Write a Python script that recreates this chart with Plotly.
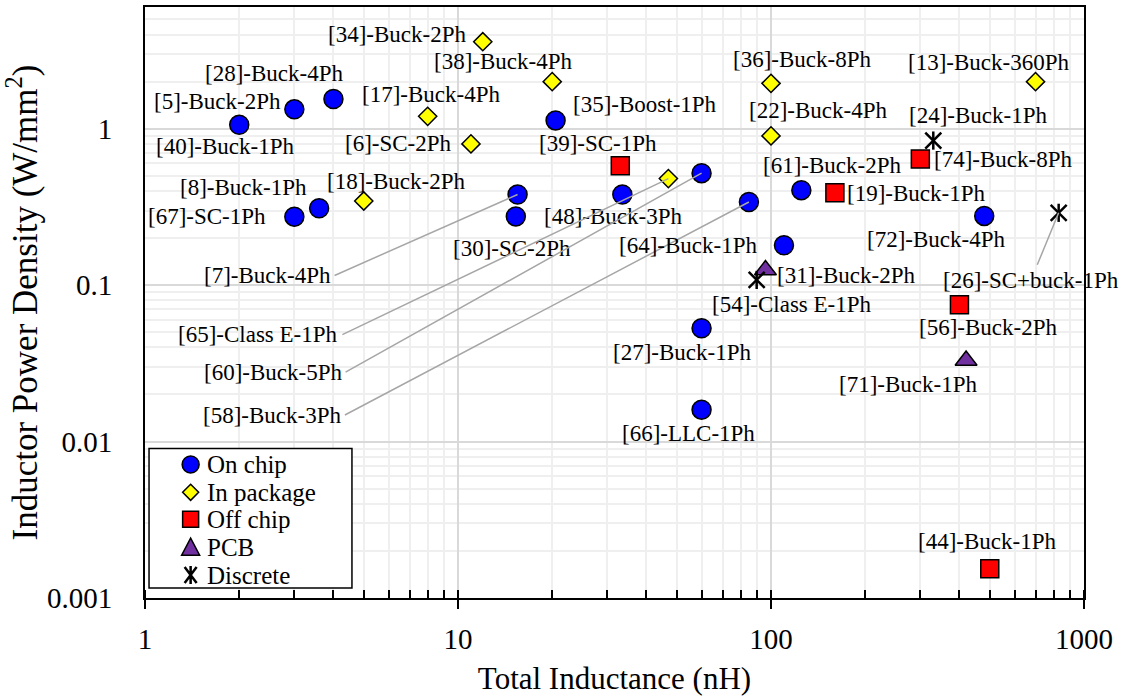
import math
import plotly.graph_objects as go

# ---------------- data: total inductance (nH) vs inductor power density (W/mm^2)
on_chip_labels = ["[40]-Buck-1Ph", "[5]-Buck-2Ph", "[28]-Buck-4Ph", "[35]-Boost-1Ph",
                  "[8]-Buck-1Ph", "[67]-SC-1Ph", "[7]-Buck-4Ph", "[30]-SC-2Ph",
                  "[48]-Buck-3Ph", "[60]-Buck-5Ph", "[58]-Buck-3Ph", "[61]-Buck-2Ph",
                  "[64]-Buck-1Ph", "[27]-Buck-1Ph", "[66]-LLC-1Ph", "[72]-Buck-4Ph"]
on_chip_L = [2, 3, 4, 20.5, 3.6, 3, 15.5, 15.3, 33.5, 60, 85, 125, 110, 60, 60, 480]
on_chip_pd = [1.06, 1.33, 1.55, 1.13, 0.31, 0.274, 0.38, 0.275, 0.38, 0.52, 0.34,
              0.405, 0.18, 0.053, 0.016, 0.277]

in_package_labels = ["[34]-Buck-2Ph", "[38]-Buck-4Ph", "[17]-Buck-4Ph", "[6]-SC-2Ph",
                     "[18]-Buck-2Ph", "[36]-Buck-8Ph", "[22]-Buck-4Ph", "[13]-Buck-360Ph",
                     "[65]-Class E-1Ph"]
in_package_L = [12, 20, 8, 11, 5, 100, 100, 700, 47]
in_package_pd = [3.6, 2.0, 1.2, 0.8, 0.345, 1.95, 0.9, 2.0, 0.48]

off_chip_labels = ["[39]-SC-1Ph", "[74]-Buck-8Ph", "[19]-Buck-1Ph", "[56]-Buck-2Ph",
                   "[44]-Buck-1Ph"]
off_chip_L = [33, 300, 160, 400, 500]
off_chip_pd = [0.58, 0.64, 0.39, 0.075, 0.00154]

pcb_labels = ["[31]-Buck-2Ph", "[71]-Buck-1Ph"]
pcb_L = [96, 420]
pcb_pd = [0.125, 0.033]

discrete_labels = ["[24]-Buck-1Ph", "[54]-Class E-1Ph", "[26]-SC+buck-1Ph"]
discrete_L = [330, 90, 830]
discrete_pd = [0.84, 0.108, 0.29]

x_ticks = [1, 10, 100, 1000]
y_ticks = [0.001, 0.01, 0.1, 1]

# ---------------- label placement (pixel offsets from the marker)
# (anchor, xshift, yshift) ; yshift positive = up
label_place = {
    "[34]-Buck-2Ph": ("right", -15, 7),
    "[5]-Buck-2Ph": ("right", -11, 8),
    "[6]-SC-2Ph": ("right", -17, 0),
    "[67]-SC-1Ph": ("right", -26, 0),
    "[64]-Buck-1Ph": ("right", -25, 0),
    "[28]-Buck-4Ph": ("center", -59, 25),
    "[40]-Buck-1Ph": ("center", -14, -22),
    "[17]-Buck-4Ph": ("center", 3, 22),
    "[18]-Buck-2Ph": ("center", 32, 20),
    "[8]-Buck-1Ph": ("center", -76, 21),
    "[38]-Buck-4Ph": ("center", -49, 20),
    "[36]-Buck-8Ph": ("center", 31, 24),
    "[13]-Buck-360Ph": ("center", -47, 19),
    "[22]-Buck-4Ph": ("center", 47, 25),
    "[24]-Buck-1Ph": ("center", 45, 25),
    "[39]-SC-1Ph": ("center", -22, 22),
    "[61]-Buck-2Ph": ("center", 31, 25),
    "[48]-Buck-3Ph": ("center", -9, -22),
    "[30]-SC-2Ph": ("center", -4, -32),
    "[72]-Buck-4Ph": ("center", -48, -24),
    "[54]-Class E-1Ph": ("center", 35, -25),
    "[56]-Buck-2Ph": ("center", 29, -23),
    "[27]-Buck-1Ph": ("center", -20, -24),
    "[71]-Buck-1Ph": ("center", -58, -24),
    "[66]-LLC-1Ph": ("center", -13, -24),
    "[44]-Buck-1Ph": ("center", -3, 27),
    "[35]-Boost-1Ph": ("left", 15, 16),
    "[74]-Buck-8Ph": ("left", 12, 0),
    "[19]-Buck-1Ph": ("left", 10, -1),
    "[31]-Buck-2Ph": ("left", 10, -6),
}
# labels tied to their marker by a leader line: (anchor, ax, ay) in pixels
leader_place = {
    "[7]-Buck-4Ph": ("right", -183, 81),
    "[65]-Class E-1Ph": ("right", -326, 156),
    "[60]-Buck-5Ph": ("right", -356, 199),
    "[58]-Buck-3Ph": ("right", -404, 213),
    "[26]-SC+buck-1Ph": ("center", -28, 68),
}

FONT = "Liberation Serif, Times New Roman, serif"
EDGE = dict(color="black", width=1.5)

fig = go.Figure()

groups = [
    ("On chip", on_chip_L, on_chip_pd, on_chip_labels,
     dict(symbol="circle", size=19, color="#0000ff", line=EDGE)),
    ("In package", in_package_L, in_package_pd, in_package_labels,
     dict(symbol="diamond", size=14, color="#ffff00", line=EDGE)),
    ("Off chip", off_chip_L, off_chip_pd, off_chip_labels,
     dict(symbol="square", size=18, color="#ff0000", line=EDGE)),
    ("PCB", pcb_L, pcb_pd, pcb_labels,
     dict(symbol="triangle-up", size=19, color="#7030a0", line=EDGE)),
]
for name, xs, ys, labels, marker in groups:
    fig.add_trace(go.Scatter(x=xs, y=ys, mode="markers", name=name, text=labels,
                             marker=marker, showlegend=False,
                             hovertemplate="%{text}<br>%{x} nH, %{y} W/mm²<extra></extra>"))

# discrete inductors: an X with a vertical bar through it
fig.add_trace(go.Scatter(x=discrete_L, y=discrete_pd, mode="markers", name="Discrete",
                         text=discrete_labels, showlegend=False,
                         marker=dict(symbol="x-thin-open", size=16, color="black",
                                     line=dict(color="black", width=2.5))))
fig.add_trace(go.Scatter(x=discrete_L, y=discrete_pd, mode="markers", name="Discrete",
                         text=discrete_labels, showlegend=False, hoverinfo="skip",
                         marker=dict(symbol="line-ns-open", size=13, color="black",
                                     line=dict(color="black", width=2.5))))

# point labels
all_points = []
for _, xs, ys, labels, _m in groups:
    all_points += list(zip(labels, xs, ys))
all_points += list(zip(discrete_labels, discrete_L, discrete_pd))

annotations = []
for lab, xv, yv in all_points:
    if lab in leader_place:
        anchor, ax, ay = leader_place[lab]
        annotations.append(dict(
            x=math.log10(xv), y=math.log10(yv), xref="x", yref="y",
            text=lab, showarrow=True, arrowhead=0, arrowwidth=1.5,
            arrowcolor="#a6a6a6", ax=ax, ay=ay, xanchor=anchor, yanchor="middle",
            standoff=0, borderpad=3, font=dict(family=FONT, size=23, color="black")))
    else:
        anchor, dx, dy = label_place[lab]
        annotations.append(dict(
            x=math.log10(xv), y=math.log10(yv), xref="x", yref="y",
            text=lab, showarrow=False, xanchor=anchor, yanchor="middle",
            xshift=dx, yshift=dy, font=dict(family=FONT, size=23, color="black")))

# ---------------- legend box drawn in the lower-left corner
shapes = [dict(type="rect", xref="paper", yref="paper", x0=0.0043, x1=0.2204,
               y0=0.0169, y1=0.2530, line=dict(color="black", width=1.5),
               fillcolor="white", layer="above")]
leg_x = 0.0486
leg_text_x = 0.0639
leg_rows = [0.2260, 0.1788, 0.1332, 0.0860, 0.0388]
leg_names = ["On chip", "In package", "Off chip", "PCB", "Discrete"]
swatch = dict(xref="paper", yref="paper", xsizemode="pixel", ysizemode="pixel",
              xanchor=leg_x, layer="above", line=dict(color="black", width=1.5))
shapes.append(dict(type="circle", yanchor=leg_rows[0], x0=-8.5, x1=8.5, y0=-8.5, y1=8.5,
                   fillcolor="#0000ff", **swatch))
shapes.append(dict(type="path", yanchor=leg_rows[1], path="M0,8 L8,0 L0,-8 L-8,0 Z",
                   fillcolor="#ffff00", **swatch))
shapes.append(dict(type="rect", yanchor=leg_rows[2], x0=-8, x1=8, y0=-8, y1=8,
                   fillcolor="#ff0000", **swatch))
shapes.append(dict(type="path", yanchor=leg_rows[3], path="M-9,-8 L9,-8 L0,9 Z",
                   fillcolor="#7030a0", **swatch))
shapes.append(dict(type="path", yanchor=leg_rows[4],
                   path="M-6,-8 L6,8 M-6,8 L6,-8 M0,-9 L0,9",
                   xref="paper", yref="paper", xsizemode="pixel", ysizemode="pixel",
                   xanchor=leg_x, layer="above", line=dict(color="black", width=2.5)))
for nm, ry in zip(leg_names, leg_rows):
    annotations.append(dict(x=leg_text_x, y=ry, xref="paper", yref="paper", text=nm,
                            showarrow=False, xanchor="left", yanchor="middle",
                            font=dict(family=FONT, size=25, color="black")))

MAJOR_GRID = "#d9d9d9"
MINOR_GRID = "#efefef"

# inner tick marks at every 1..9 step of each decade (decades included)
x_inner_ticks = [m * 10 ** e for e in range(3) for m in range(1, 10)] + [1000]

fig.update_layout(
    width=1134, height=700,
    margin=dict(l=145, r=50, t=5, b=102),
    paper_bgcolor="white", plot_bgcolor="white",
    font=dict(family=FONT, size=29, color="black"),
    showlegend=False,
    annotations=annotations,
    shapes=shapes,
    xaxis=dict(
        type="log", range=[0, 3], tickvals=x_ticks, ticktext=[str(v) for v in x_ticks],
        showline=True, linecolor="black", linewidth=2, mirror=True,
        ticks="outside", ticklen=9, tickwidth=2, tickcolor="black",
        showgrid=True, gridcolor=MAJOR_GRID, gridwidth=2,
        minor=dict(tickvals=x_inner_ticks, ticks="inside", ticklen=8, tickwidth=1.5,
                   tickcolor="black", showgrid=True, gridcolor=MINOR_GRID, gridwidth=2),
        tickfont=dict(family=FONT, size=29), ticklabelstandoff=5,
        title=dict(text="Total Inductance (nH)", font=dict(family=FONT, size=31),
                   standoff=14),
        zeroline=False,
    ),
    yaxis=dict(
        type="log", range=[-3, math.log10(6)], tickvals=y_ticks,
        ticktext=["0.001", "0.01", "0.1", "1"],
        showline=True, linecolor="black", linewidth=2, mirror=True,
        ticks="", showgrid=True, gridcolor=MAJOR_GRID, gridwidth=2,
        minor=dict(dtick="D1", ticks="", showgrid=True, gridcolor=MINOR_GRID, gridwidth=2),
        tickfont=dict(family=FONT, size=29), ticklabelstandoff=25,
        title=dict(text="Inductor Power Density (W/mm<sup>2</sup>)",
                   font=dict(family=FONT, size=35), standoff=6),
        zeroline=False,
    ),
)

fig.write_html("out.html")
